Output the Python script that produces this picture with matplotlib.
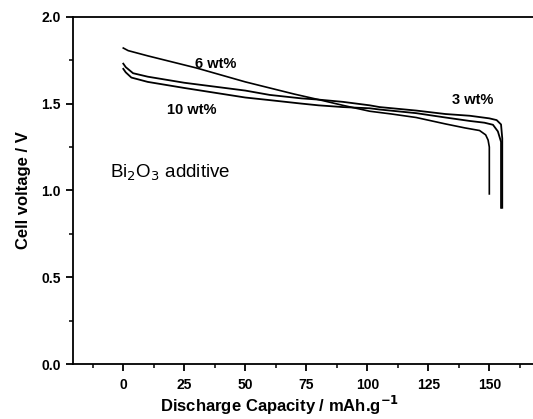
import matplotlib
matplotlib.use("Agg")
import matplotlib.pyplot as plt
from matplotlib.ticker import MultipleLocator

plt.rcParams['font.family'] = ['Liberation Sans', 'DejaVu Sans']

# discharge curves (capacity mAh/g, voltage V)
cap_6 = [0, 2, 10, 20, 30, 40, 50, 60, 70, 80, 90, 101, 110, 120, 132, 140, 146, 148.5, 149.5, 150, 150]
volt_6 = [1.82, 1.805, 1.775, 1.74, 1.705, 1.665, 1.625, 1.59, 1.555, 1.523, 1.49, 1.456, 1.44, 1.42,
          1.383, 1.36, 1.345, 1.32, 1.29, 1.25, 0.98]

cap_3 = [0, 1, 4, 10, 25, 50, 60, 73, 80, 90, 101, 105, 120, 132, 142, 150, 153, 154.8, 155.3, 155.3]
volt_3 = [1.73, 1.71, 1.675, 1.655, 1.62, 1.575, 1.55, 1.53, 1.523, 1.51, 1.49, 1.48, 1.46, 1.44, 1.43,
          1.415, 1.405, 1.38, 1.30, 0.90]

cap_10 = [0, 1, 3.3, 10, 25, 50, 60, 73, 80, 90, 101, 105, 120, 132, 142, 148, 151.5, 153.5, 154.8, 154.8]
volt_10 = [1.70, 1.68, 1.65, 1.625, 1.59, 1.535, 1.52, 1.50, 1.49, 1.48, 1.473, 1.466, 1.445, 1.42, 1.40,
           1.39, 1.378, 1.34, 1.28, 0.90]

x_ticks = [0, 25, 50, 75, 100, 125, 150]
y_ticks = [0.0, 0.5, 1.0, 1.5, 2.0]

fig = plt.figure(figsize=(5.33, 4.19), dpi=100)
ax = fig.add_axes([0.137, 0.131, 0.863, 0.829])

ax.plot(cap_6, volt_6, color='black', lw=1.2)
ax.plot(cap_3, volt_3, color='black', lw=1.3)
ax.plot(cap_10, volt_10, color='black', lw=1.3)

ax.set_xlim(-20.6, 167.9)
ax.set_ylim(0, 2.0)
ax.set_xticks(x_ticks)
ax.set_yticks(y_ticks)
ax.set_xticklabels([str(t) for t in x_ticks])
ax.set_yticklabels(['%.1f' % t for t in y_ticks])
ax.xaxis.set_minor_locator(MultipleLocator(12.5))
ax.yaxis.set_minor_locator(MultipleLocator(0.25))

ax.spines['right'].set_visible(False)
for s in ['left', 'bottom', 'top']:
    ax.spines[s].set_linewidth(1.3)

ax.tick_params(which='major', direction='out', length=5, width=1.3, labelsize=10, pad=5)
ax.tick_params(axis='y', which='major', pad=4)
ax.tick_params(which='minor', direction='out', length=3, width=1.1)
ax.tick_params(top=False, right=False, which='both')
for lab in ax.get_xticklabels() + ax.get_yticklabels():
    lab.set_fontweight('bold')

ax.set_xlabel('Discharge Capacity / mAh.g$^{\\mathbf{-1}}$', fontsize=12, fontweight='bold')
ax.xaxis.set_label_coords(0.45, -0.085)
ax.set_ylabel('Cell voltage / V', fontsize=12, fontweight='bold', labelpad=7)

ax.text(38, 1.73, '6 wt%', fontsize=10.5, fontweight='bold', ha='center', va='center')
ax.text(28, 1.465, '10 wt%', fontsize=10.5, fontweight='bold', ha='center', va='center')
ax.text(143, 1.52, '3 wt%', fontsize=10.5, fontweight='bold', ha='center', va='center')
ax.text(-5.5, 1.10, 'Bi$_2$O$_3$ additive', fontsize=13.5, ha='left', va='center')

fig.savefig('out.png', dpi=100)
